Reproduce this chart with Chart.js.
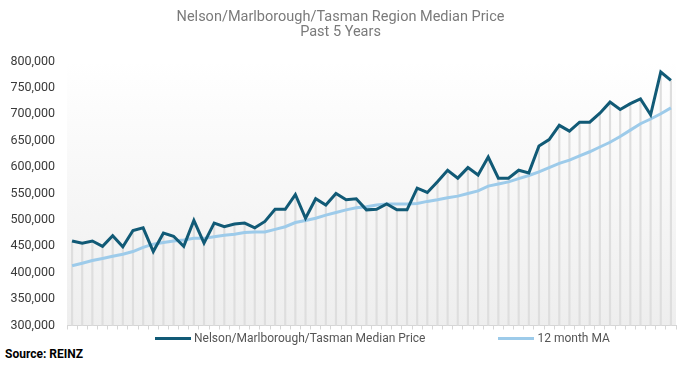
<!DOCTYPE html>
<html>
<head>
<meta charset="utf-8">
<script src="https://cdn.jsdelivr.net/npm/chart.js@4"></script>
<style>
  body { margin: 0; background: #fff; font-family: Roboto, sans-serif; }
  #wrap { position: relative; width: 688px; height: 345px; }
  #legend { position: absolute; left: 155px; top: 330px; display: flex; gap: 73px; font: 12px Roboto, sans-serif; color: #555; }
  #legend .item { display: flex; align-items: center; height: 16px; }
  #legend .swatch { width: 36px; height: 3px; margin-right: 3px; }
  #source { position: absolute; left: 5px; top: 347px; font: bold 12px Roboto, sans-serif; color: #000; }
</style>
</head>
<body>
<div id="wrap"><canvas id="chartPrice"></canvas></div>
<div id="legend"></div>
<div id="source">Source: REINZ</div>
<script>
// 60 monthly observations (labels hidden on the chart)
const monthNames = ['Jan', 'Feb', 'Mar', 'Apr', 'May', 'Jun', 'Jul', 'Aug', 'Sep', 'Oct', 'Nov', 'Dec'];
const months = [];
for (let i = 0; i < 60; i++) {
  months.push(monthNames[(i + 5) % 12] + '-' + (16 + Math.floor((i + 5) / 12)));
}

const medianPrice = [
  460000, 456000, 460000, 450000, 470000, 449000, 480000, 485000, 440000, 475000,
  469000, 450000, 499000, 456000, 494000, 487000, 492000, 494000, 485000, 497000,
  520000, 520000, 548000, 503000, 540000, 528000, 550000, 538000, 540000, 519000,
  520000, 530000, 519000, 519000, 560000, 552000, 572000, 594000, 579000, 599000,
  585000, 619000, 579000, 579000, 594000, 589000, 640000, 652000, 679000, 668000,
  685000, 685000, 702000, 723000, 709000, 720000, 729000, 699000, 780000, 764000
];

const movingAvg = [
  413000, 418000, 423000, 427000, 431000, 435000, 440000, 448000, 454000, 457000,
  460000, 462000, 465000, 465000, 468000, 471000, 473000, 476000, 477000, 477000,
  482000, 487000, 495000, 499000, 503000, 509000, 514000, 519000, 523000, 525000,
  528000, 530000, 530000, 530000, 531000, 535000, 538000, 542000, 545000, 550000,
  555000, 564000, 568000, 572000, 578000, 584000, 591000, 599000, 607000, 613000,
  621000, 629000, 638000, 647000, 658000, 670000, 682000, 691000, 701000, 712000
];

const yTicks = { min: 300000, max: 800000, step: 50000 };

const plotBackground = {
  id: 'plotBackground',
  beforeDraw(chart) {
    const { ctx, chartArea } = chart;
    const g = ctx.createLinearGradient(0, chartArea.top, 0, chartArea.bottom);
    g.addColorStop(0, '#ffffff');
    g.addColorStop(1, '#eeeeee');
    ctx.save();
    ctx.fillStyle = g;
    ctx.fillRect(chartArea.left, chartArea.top, chartArea.right - chartArea.left, chartArea.bottom - chartArea.top);
    ctx.restore();
  }
};

const ctx = document.getElementById('chartPrice');

const chart = new Chart(ctx, {
  data: {
    labels: months,
    datasets: [
      {
        type: 'line',
        label: 'Nelson/Marlborough/Tasman Median Price',
        data: medianPrice,
        borderColor: '#115a76',
        borderWidth: 3,
        pointRadius: 0,
        tension: 0,
        order: 1
      },
      {
        type: 'line',
        label: '12 month MA',
        data: movingAvg,
        borderColor: '#9dcbea',
        borderWidth: 3,
        pointRadius: 0,
        tension: 0,
        order: 2
      },
      {
        type: 'bar',
        label: 'drop',
        data: medianPrice,
        backgroundColor: '#dedede',
        barThickness: 1.5,
        order: 3
      }
    ]
  },
  options: {
    responsive: true,
    maintainAspectRatio: false,
    animation: false,
    layout: { padding: { left: 5, right: 12, top: 10, bottom: 0 } },
    plugins: {
      tooltip: { enabled: false },
      legend: { display: false },
      title: {
        display: true,
        text: ['Nelson/Marlborough/Tasman Region Median Price', 'Past 5 Years'],
        color: '#7a7a7a',
        font: { family: 'Roboto', size: 14.5, weight: 'normal', lineHeight: 1.05 },
        padding: { top: 0, bottom: 21 }
      }
    },
    scales: {
      x: {
        offset: true,
        grid: { display: true, drawOnChartArea: false, color: '#d6d6d6', tickLength: 4 },
        border: { display: true, color: '#d6d6d6' },
        ticks: { display: false }
      },
      y: {
        min: yTicks.min,
        max: yTicks.max,
        afterFit(axis) { axis.width = 62; },
        grid: { display: false, drawTicks: false },
        border: { display: false },
        ticks: {
          stepSize: yTicks.step,
          color: '#3a3a3a',
          font: { family: 'Roboto', size: 12.5 },
          padding: 12
        }
      }
    }
  },
  plugins: [plotBackground]
});

// legend built from the line datasets
const legendEl = document.getElementById('legend');
chart.data.datasets.filter(ds => ds.type === 'line').forEach(ds => {
  const item = document.createElement('span');
  item.className = 'item';
  const sw = document.createElement('span');
  sw.className = 'swatch';
  sw.style.background = ds.borderColor;
  const txt = document.createElement('span');
  txt.textContent = ds.label;
  item.appendChild(sw);
  item.appendChild(txt);
  legendEl.appendChild(item);
});
</script>
</body>
</html>
